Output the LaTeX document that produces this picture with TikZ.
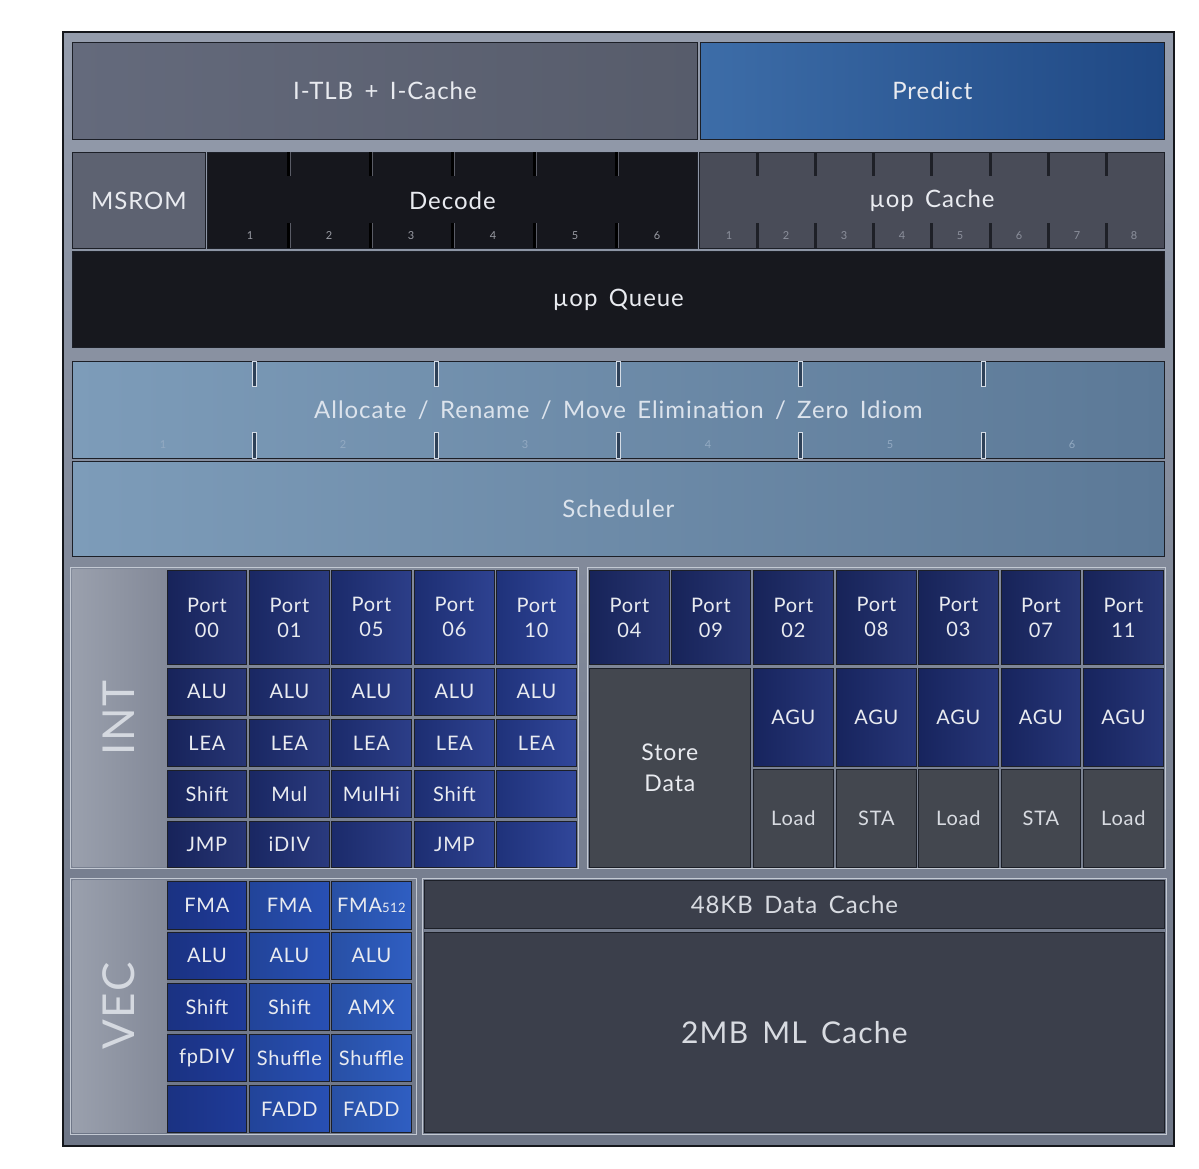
\documentclass[tikz,border=0pt]{standalone}
\usepackage{fontspec}
\setmainfont{Lato}[LetterSpace=4, WordSpace=1.6]
\definecolor{txt}{HTML}{E9EBF0}
\definecolor{txtB}{HTML}{DCE3EC}
\definecolor{txtG}{HTML}{D8DBE1}
\definecolor{frameA}{HTML}{949CAC}
\definecolor{frameB}{HTML}{6E7687}
\definecolor{frameEdge}{HTML}{15171C}
\definecolor{itlbA}{HTML}{646A7C}
\definecolor{itlbB}{HTML}{575C6B}
\definecolor{predA}{HTML}{3D6DA8}
\definecolor{predB}{HTML}{1F4884}
\definecolor{msrom}{HTML}{5D6271}
\definecolor{decode}{HTML}{16171D}
\definecolor{uopc}{HTML}{494C58}
\definecolor{queue}{HTML}{17181E}
\definecolor{allocA}{HTML}{7D9CB9}
\definecolor{allocB}{HTML}{5C7997}
\definecolor{labA}{HTML}{9AA0AD}
\definecolor{labB}{HTML}{838998}
\definecolor{labTxt}{HTML}{D5D9E0}
\definecolor{ic0}{HTML}{1C2B6E}
\definecolor{ic1}{HTML}{1F3078}
\definecolor{ic2}{HTML}{213482}
\definecolor{ic3}{HTML}{23388B}
\definecolor{ic4}{HTML}{263D95}
\definecolor{rport}{HTML}{1C2B6C}
\definecolor{agu}{HTML}{1C2C72}
\definecolor{dgray}{HTML}{43474F}
\definecolor{vc0}{HTML}{1F3B99}
\definecolor{vc1}{HTML}{2850B4}
\definecolor{vc2}{HTML}{2F5EC2}
\definecolor{cache}{HTML}{3B3F4B}
\definecolor{edge}{HTML}{1C1F27}
\definecolor{grpEdge}{HTML}{C3C9D3}
\definecolor{tickHi}{HTML}{5A5C66}
\definecolor{tickC}{HTML}{1E2027}
\definecolor{numD}{HTML}{9A9CA4}
\definecolor{numC}{HTML}{8C909C}
\definecolor{numA}{HTML}{93AAC2}
\definecolor{aTickE}{HTML}{D4DCE6}
\definecolor{aTickF}{HTML}{2E4158}
\newcommand\bx[7]{\node[#6, anchor=north west, minimum width={(#4-#2)*1pt}, minimum height={(#5-#3)*1pt}] (#1) at (#2,#3) {#7};}
\begin{document}
\begin{tikzpicture}[x=1pt,y=-1pt,
  blk/.style={draw=edge, line width=0.8pt, inner sep=0pt, text=txt, align=center, font=\fontsize{24}{28}\selectfont},
  cellf/.style={blk, font=\fontsize{20}{25}\selectfont},
  icell/.style={cellf, left color=#1!82!black, right color=#1!95!white},
  vcell/.style={cellf, left color=#1!85!black, right color=#1},
  gcell/.style={cellf, fill=dgray},
  grp/.style={draw=grpEdge, line width=1pt, fill=none},
  tickd/.style={draw=#1, line width=3pt},
  num/.style={font=\fontsize{11}{11}\selectfont, text=#1},
  biglab/.style={rotate=90, font=\fontsize{44}{44}\selectfont, text=labTxt}]
\useasboundingbox[fill=white] (0,0) rectangle (1199,1168);
% outer frame
\node[draw=frameEdge, line width=2pt, top color=frameA, bottom color=frameB, anchor=north west, minimum width=1111pt, minimum height=1114pt, inner sep=0pt] (frame) at (62,31) {};
% row 1
\bx{itlb}{72}{42}{697}{139}{blk, left color=itlbA, right color=itlbB}{I-TLB + I-Cache}
\bx{predict}{700}{42}{1164}{139}{blk, left color=predA, right color=predB}{Predict}
% row 2
\bx{msrom}{72}{152}{205}{248}{blk, fill=msrom}{MSROM}
\bx{decode}{207}{152}{697}{248}{blk, fill=decode}{Decode}
\bx{uopc}{699}{152}{1164}{248}{blk, fill=uopc}{µop Cache}
\foreach \x in {288,370,452,534,616}{
  \draw[tickd=black] (\x,152) -- (\x,176);
  \draw[tickd=black] (\x,223) -- (\x,248);
  \draw[tickHi, line width=0.6pt] (\x+1.8,152) -- (\x+1.8,176);
  \draw[tickHi, line width=0.6pt] (\x+1.8,223) -- (\x+1.8,248);}
\foreach \x/\n in {250/1,329/2,411/3,493/4,575/5,657/6}{
  \node[num=numD] at (\x,236) {\n};}
\foreach \x in {757,815,873,931,990,1048,1106}{
  \draw[tickd=tickC] (\x,152) -- (\x,176);
  \draw[tickd=tickC] (\x,223) -- (\x,248);}
\foreach \x/\n in {729/1,786/2,844/3,902/4,960/5,1019/6,1077/7,1134/8}{
  \node[num=numC] at (\x,236) {\n};}
% queue
\bx{queue}{72}{251}{1164}{347}{blk, fill=queue}{µop Queue}
% allocate + scheduler
\bx{alloc}{72}{361}{1164}{458}{blk, left color=allocA, right color=allocB, text=txtB}{Allocate / Rename / Move Elimination / Zero Idiom}
\foreach \x in {254,436,618,800,983}{
  \draw[aTickE, line width=0.6pt, fill=aTickF] (\x-2,361) rectangle (\x+2,386);
  \draw[aTickE, line width=0.6pt, fill=aTickF] (\x-2,432) rectangle (\x+2,458);}
\foreach \x/\n in {163/1,343/2,525/3,708/4,890/5,1072/6}{
  \node[num=numA] at (\x,445) {\n};}
\bx{sched}{72}{461}{1164}{556}{blk, left color=allocA, right color=allocB, text=txtB}{Scheduler}
% INT group
\draw[grp] (70,567) rectangle (578,868);
\bx{intpanel}{72}{569}{166}{866}{blk, draw=none, left color=labA, right color=labB}{}
\node[biglab] (intlab) at (119,718) {INT};
\bx{p00}{167}{570}{246}{664}{icell=ic0}{Port\\00}
\bx{p01}{249}{570}{329}{664}{icell=ic1}{Port\\01}
\bx{p05}{331}{570}{411}{664}{icell=ic2}{Port\\05}
\bx{p06}{414}{570}{494}{664}{icell=ic3}{Port\\06}
\bx{p10}{496}{570}{576}{664}{icell=ic4}{Port\\10}
\bx{alu0}{167}{668}{246}{715}{icell=ic0}{ALU}
\bx{alu1}{249}{668}{329}{715}{icell=ic1}{ALU}
\bx{alu2}{331}{668}{411}{715}{icell=ic2}{ALU}
\bx{alu3}{414}{668}{494}{715}{icell=ic3}{ALU}
\bx{alu4}{496}{668}{576}{715}{icell=ic4}{ALU}
\bx{lea0}{167}{719}{246}{766}{icell=ic0}{LEA}
\bx{lea1}{249}{719}{329}{766}{icell=ic1}{LEA}
\bx{lea2}{331}{719}{411}{766}{icell=ic2}{LEA}
\bx{lea3}{414}{719}{494}{766}{icell=ic3}{LEA}
\bx{lea4}{496}{719}{576}{766}{icell=ic4}{LEA}
\bx{sh0}{167}{770}{246}{817}{icell=ic0}{Shift}
\bx{sh1}{249}{770}{329}{817}{icell=ic1}{Mul}
\bx{sh2}{331}{770}{411}{817}{icell=ic2}{MulHi}
\bx{sh3}{414}{770}{494}{817}{icell=ic3}{Shift}
\bx{sh4}{496}{770}{576}{817}{icell=ic4}{}
\bx{jm0}{167}{821}{246}{867}{icell=ic0}{JMP}
\bx{jm1}{249}{821}{329}{867}{icell=ic1}{iDIV}
\bx{jm2}{331}{821}{411}{867}{icell=ic2}{}
\bx{jm3}{414}{821}{494}{867}{icell=ic3}{JMP}
\bx{jm4}{496}{821}{576}{867}{icell=ic4}{}
% memory group
\draw[grp] (587,567) rectangle (1165,868);
\bx{p04}{589}{570}{669}{664}{icell=rport}{Port\\04}
\bx{p09}{671}{570}{750}{664}{icell=rport}{Port\\09}
\bx{p02}{753}{570}{833}{664}{icell=rport}{Port\\02}
\bx{p08}{836}{570}{916}{664}{icell=rport}{Port\\08}
\bx{p03}{918}{570}{998}{664}{icell=rport}{Port\\03}
\bx{p07}{1001}{570}{1080}{664}{icell=rport}{Port\\07}
\bx{p11}{1083}{570}{1163}{664}{icell=rport}{Port\\11}
\bx{std}{589}{668}{750}{867}{gcell, font=\fontsize{23}{31}\selectfont}{Store\\Data}
\bx{agu2}{753}{668}{833}{766}{icell=agu}{AGU}
\bx{agu8}{836}{668}{916}{766}{icell=agu}{AGU}
\bx{agu3}{918}{668}{998}{766}{icell=agu}{AGU}
\bx{agu7}{1001}{668}{1080}{766}{icell=agu}{AGU}
\bx{agu11}{1083}{668}{1163}{766}{icell=agu}{AGU}
\bx{ld2}{753}{769}{833}{867}{gcell, text=txtG}{Load}
\bx{ld8}{836}{769}{916}{867}{gcell, text=txtG}{STA}
\bx{ld3}{918}{769}{998}{867}{gcell, text=txtG}{Load}
\bx{ld7}{1001}{769}{1080}{867}{gcell, text=txtG}{STA}
\bx{ld11}{1083}{769}{1163}{867}{gcell, text=txtG}{Load}
% VEC group
\draw[grp] (70,878) rectangle (416,1134);
\bx{vecpanel}{72}{880}{166}{1132}{blk, draw=none, left color=labA, right color=labB}{}
\node[biglab] (veclab) at (119,1006) {VEC};
\bx{v00}{167}{881}{246}{929}{vcell=vc0}{FMA}
\bx{v01}{249}{881}{329}{929}{vcell=vc1}{FMA}
\bx{v02}{331}{881}{411}{929}{vcell=vc2}{FMA{\fontsize{13}{13}\selectfont 512}}
\bx{v10}{167}{932}{246}{979}{vcell=vc0}{ALU}
\bx{v11}{249}{932}{329}{979}{vcell=vc1}{ALU}
\bx{v12}{331}{932}{411}{979}{vcell=vc2}{ALU}
\bx{v20}{167}{983}{246}{1030}{vcell=vc0}{Shift}
\bx{v21}{249}{983}{329}{1030}{vcell=vc1}{Shift}
\bx{v22}{331}{983}{411}{1030}{vcell=vc2}{AMX}
\bx{v30}{167}{1034}{246}{1081}{vcell=vc0}{fpDIV}
\bx{v31}{249}{1034}{329}{1081}{vcell=vc1}{Shuffle}
\bx{v32}{331}{1034}{411}{1081}{vcell=vc2}{Shuffle}
\bx{v40}{167}{1085}{246}{1132}{vcell=vc0}{}
\bx{v41}{249}{1085}{329}{1132}{vcell=vc1}{FADD}
\bx{v42}{331}{1085}{411}{1132}{vcell=vc2}{FADD}
% caches
\draw[grp] (422,878) rectangle (1166,1134);
\bx{dcache}{424}{880}{1164}{928}{blk, fill=cache, text=txtG}{48KB Data Cache}
\bx{mlc}{424}{932}{1164}{1132}{blk, fill=cache, text=txtG, font=\fontsize{30}{34}\selectfont}{2MB ML Cache}
\end{tikzpicture}
\end{document}
